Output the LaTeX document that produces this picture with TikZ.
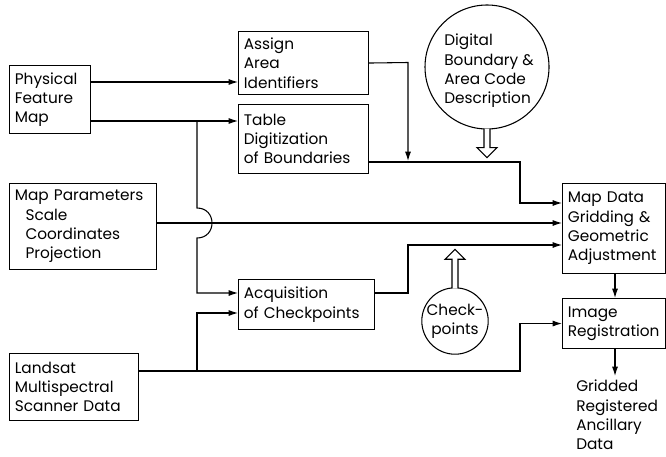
\documentclass[tikz,border=0pt]{standalone}
\usepackage{fontspec}
\setmainfont{Poppins}
\usetikzlibrary{arrows.meta,calc}
\begin{document}
\begin{tikzpicture}[x=0.75pt,y=-0.75pt,
  every node/.style={font=\fontsize{11.5}{14.5}\selectfont},
  box/.style n args={2}{draw,line width=0.8pt,anchor=north west,align=left,
    inner xsep=4pt,inner ysep=2pt,text width=#1,minimum height=#2},
  ln/.style={line width=0.8pt},
  arr/.style={line width=0.8pt,-{Latex[length=7pt,width=4.5pt]}},
  hollow/.style={line width=0.8pt,fill=white}]
\useasboundingbox (0,0) rectangle (666,456);
% boxes
\node[box={52.75pt}{51pt}] (pfm) at (9,65) {Physical\\Feature\\Map};
\node[box={89.5pt}{47.25pt}] (assign) at (238,31) {Assign\\Area\\Identifiers};
\node[box={89.5pt}{51.75pt}] (table) at (238,104) {Table\\Digitization\\of Boundaries};
\node[box={102.25pt}{64.5pt}] (mapp) at (9,183) {Map Parameters\\\hspace*{8pt}Scale\\\hspace*{8pt}Coordinates\\\hspace*{8pt}Projection};
\node[box={94pt}{37.5pt}] (acq) at (238,279) {Acquisition\\of Checkpoints};
\node[box={88.75pt}{50.25pt}] (land) at (9,353) {Landsat\\Multispectral\\Scanner Data};
\node[box={69.25pt}{67.5pt}] (mapdata) at (562,183) {Map Data\\Gridding \&\\Geometric\\Adjustment};
\node[box={69.25pt}{37.5pt}] (imgreg) at (562,298) {Image\\Registration};
\node[anchor=north west,align=left,inner sep=0pt] (out) at (576,380) {Gridded\\Registered\\Ancillary\\Data};
\coordinate (outin) at (615,376);
% circles
\node[draw,ln,circle,minimum size=93pt,inner sep=0pt] (dig) at (487,67) {};
\node[align=left,inner sep=0pt] at (489,71) {Digital\\Boundary \&\\Area Code\\Description};
\node[draw,ln,circle,minimum size=49.5pt,inner sep=0pt,align=center] (chk) at (455,321) {Check-\\points};
% hollow arrows
\draw[hollow] (dig.south) ++(-3,-1) -- ++(0,19) -- ++(-7,0) -- ++(10,10) -- ++(10,-10) -- ++(-7,0) -- ++(0,-19);
\draw[hollow] (chk.north) ++(-3,1) -- ++(0,-29) -- ++(-7,0) -- ++(10,-10) -- ++(10,10) -- ++(-7,0) -- ++(0,29);
% junctions and bends
\coordinate (j1) at (197,121);
\coordinate (j2) at (197,371);
\coordinate (b1) at (408,62.5);
\coordinate (b2) at (520,162);
\coordinate (b3) at (408,293);
\coordinate (b4) at (520,371);
% connectors
\draw[arr] (pfm.east |- 0,82) -- (assign.west |- 0,82);
\draw[arr] (pfm.east |- j1) -- (table.west |- j1);
\draw[arr] (j1) -- (197,208) .. controls (217,208) and (217,238) .. (197,238) -- (197,293) -- (acq.west |- 0,293);
\draw[arr] (land.east |- j2) -- (b4) -- (b4 |- imgreg.west) -- (imgreg.west);
\draw[arr] (j2) -- (197,313) -- (acq.west |- 0,313);
\draw[arr] (acq.east |- b3) -- (b3) -- (408,245) -- (mapdata.west |- 0,245);
\draw[arr] (mapp.east |- 0,223) -- (mapdata.west |- 0,223);
\draw[arr] (table.east |- b2) -- (b2) -- (520,203) -- (mapdata.west |- 0,203);
\draw[arr] (assign.east) -- (b1) -- (408,161);
\draw[arr] (mapdata.south -| outin) -- (imgreg.north -| outin);
\draw[arr] (imgreg.south -| outin) -- (outin);
\end{tikzpicture}
\end{document}
